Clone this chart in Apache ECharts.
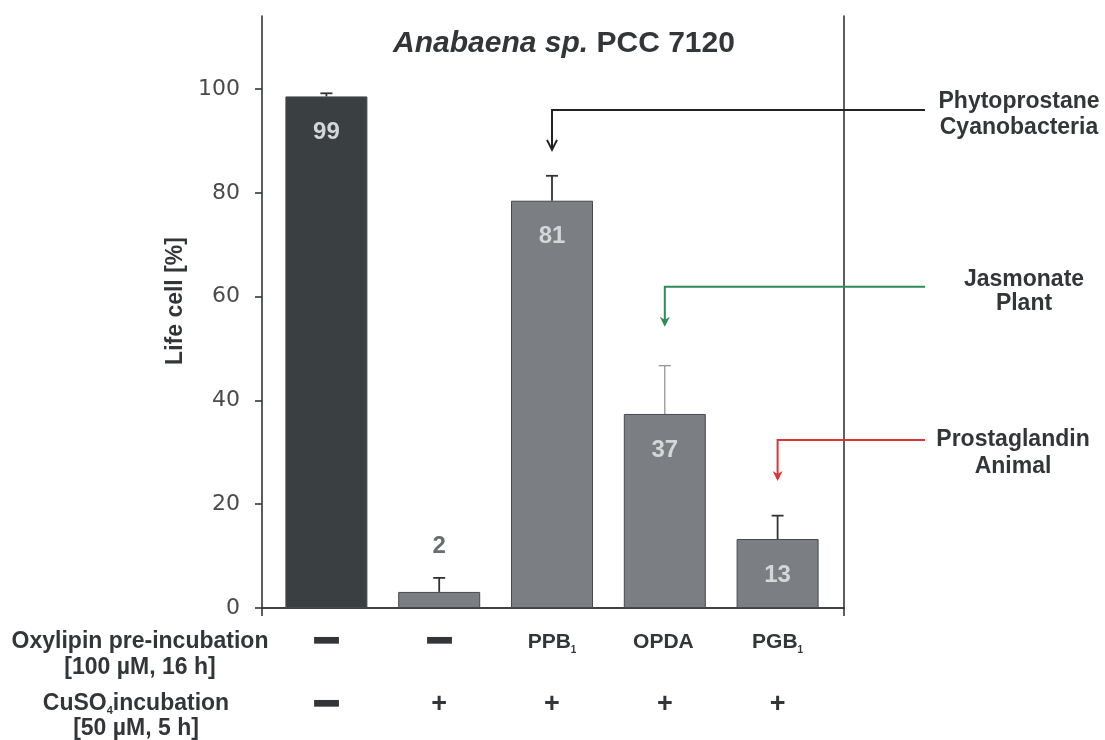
<!DOCTYPE html>
<html><head><meta charset="utf-8">
<script src="https://cdn.jsdelivr.net/npm/echarts@6/dist/echarts.min.js"></script>
<style>html,body{margin:0;padding:0;background:#fff}#c{width:1105px;height:740px}</style>
</head><body><div id="c"></div>
<script>
// ---- data ----
const categories = ['ctrl', 'CuSO4', 'PPB1', 'OPDA', 'PGB1'];
const lifeCell = [98.6, 3.1, 78.5, 37.4, 13.3];
const errorTop = [99.2, 5.8, 83.3, 46.7, 17.8];
const valueLabels = ['99', '2', '81', '37', '13'];
const oxylipinRow = ['—', '—', 'PPB|1', 'OPDA', 'PGB|1'];
const cuso4Row = ['—', '+', '+', '+', '+'];
const yTicks = [0, 20, 40, 60, 80, 100];
const yMax = 114.1;
const arrowTarget = [2, 3, 4];
const arrowLineY = [96.0, 61.9, 32.4];
const arrowTipY = [88.3, 54.2, 24.5];
const arrowLabels = [['Phytoprostane', 'Cyanobacteria'], ['Jasmonate', 'Plant'], ['Prostaglandin', 'Animal']];

// ---- styles ----
const FONT = 'Liberation Sans, Arial, sans-serif';
const DARK = '#333638';
const barColors = ['#3a3f42', '#7b7e82', '#7b7e82', '#7b7e82', '#7b7e82'];
const errColors = ['#333', '#333', '#333', '#8a8d90', '#333'];
const arrowColors = ['#222222', '#2e8b57', '#d9363a'];

const chart = echarts.init(document.getElementById('c'), null, {renderer: 'canvas'});

const barData = lifeCell.map((v, i) => ({
  value: v,
  itemStyle: {color: barColors[i], borderColor: '#45494c', borderWidth: 1},
  label: i === 1
    ? {show: true, position: 'top', distance: 34, color: '#6a6d70', formatter: valueLabels[i]}
    : {show: true, position: 'insideTop', distance: 24, color: '#d4d6d8', formatter: valueLabels[i]}
}));

const errData = errorTop.map((t, i) => [i, lifeCell[i], t]);
const arrowData = arrowTarget.map((c, k) => [c, arrowLineY[k], arrowTipY[k], k]);

const rowRich = {
  b: {fontFamily: FONT, fontWeight: 'bold', fontSize: 21, color: DARK, lineHeight: 30},
  sub: {fontFamily: FONT, fontWeight: 'bold', fontSize: 10, color: DARK, lineHeight: 30, padding: [16, 0, 0, 0]},
  dash: {fontFamily: 'DejaVu Sans', fontSize: 40, color: DARK, lineHeight: 30, padding: [4, 0, 0, 0]},
  plus: {fontFamily: FONT, fontWeight: 'bold', fontSize: 27, color: DARK, lineHeight: 30}
};
function rowFmt(t) {
  if (t === '—') return '{dash|━}';
  if (t === '+') return '{plus|+}';
  if (t.indexOf('|') >= 0) { const p = t.split('|'); return '{b|' + p[0] + '}{sub|' + p[1] + '}'; }
  return '{b|' + t + '}{sub| }';
}

const option = {
  animation: false,
  backgroundColor: '#fff',
  textStyle: {fontFamily: FONT},
  grid: [
    {left: 262, top: 16, width: 582, bottom: 132, containLabel: false},
    {left: 270, top: 16, width: 564, bottom: 132, containLabel: false}
  ],
  xAxis: [
    {gridIndex: 0, type: 'category', data: [''], position: 'bottom',
     axisLine: {show: true, lineStyle: {color: DARK, width: 1.6}},
     axisTick: {show: true, length: 8, lineStyle: {color: DARK, width: 1.6}},
     axisLabel: {show: false}, splitLine: {show: false}},
    {gridIndex: 0, type: 'category', data: [''], position: 'top',
     axisLine: {show: true, lineStyle: {color: DARK, width: 1.6}},
     axisTick: {show: false}, axisLabel: {show: false}},
    {gridIndex: 1, type: 'category', data: categories, position: 'bottom',
     axisLine: {show: false}, axisTick: {show: false},
     axisLabel: {show: true, margin: 19, interval: 0, rich: rowRich,
       formatter: (v, i) => rowFmt(oxylipinRow[i])}},
    {gridIndex: 1, type: 'category', data: categories, position: 'bottom', offset: 63,
     axisLine: {show: false}, axisTick: {show: false},
     axisLabel: {show: true, margin: 19, interval: 0, rich: rowRich,
       formatter: (v, i) => rowFmt(cuso4Row[i])}}
  ],
  yAxis: [
    {gridIndex: 0, type: 'value', min: 0, max: yMax, position: 'left',
     name: 'Life cell [%]', nameLocation: 'middle', nameGap: 63,
     nameTextStyle: {fontFamily: FONT, fontWeight: 'bold', fontSize: 23, color: DARK, padding: [0, 0, 0, 22]},
     axisLine: {show: true, lineStyle: {color: DARK, width: 1.6}},
     axisTick: {show: true, length: 7, customValues: yTicks, lineStyle: {color: DARK, width: 1.6}},
     axisLabel: {show: true, margin: 22, fontSize: 22, color: '#4a4a4a', fontFamily: 'DejaVu Sans, sans-serif',
       customValues: yTicks},
     splitLine: {show: false}},
    {gridIndex: 0, type: 'value', min: 0, max: yMax, position: 'right',
     axisLine: {show: true, lineStyle: {color: DARK, width: 1.6}},
     axisTick: {show: false}, axisLabel: {show: false}, splitLine: {show: false}},
    {gridIndex: 1, type: 'value', min: 0, max: yMax, show: false, splitLine: {show: false}}
  ],
  series: [
    {type: 'bar', xAxisIndex: 2, yAxisIndex: 2, data: barData, barWidth: 82,
     label: {fontFamily: FONT, fontWeight: 'bold', fontSize: 24}, z: 2},
    {type: 'custom', xAxisIndex: 2, yAxisIndex: 2, data: errData, z: 3,
     renderItem: (params, api) => {
       const i = api.value(0);
       const p0 = api.coord([i, api.value(1)]);
       const p1 = api.coord([i, api.value(2)]);
       const col = errColors[i];
       const w = i === 3 ? 1.2 : 1.8;
       return {type: 'group', children: [
         {type: 'line', shape: {x1: p0[0], y1: p0[1], x2: p1[0], y2: p1[1]}, style: {stroke: col, lineWidth: w}},
         {type: 'line', shape: {x1: p1[0] - 6, y1: p1[1], x2: p1[0] + 6, y2: p1[1]}, style: {stroke: col, lineWidth: w}}
       ]};
     }},
    {type: 'custom', xAxisIndex: 2, yAxisIndex: 2, data: arrowData, z: 4, clip: false,
     renderItem: (params, api) => {
       const c = api.value(0);
       const k = api.value(3);
       const pl = api.coord([c, api.value(1)]);
       const pt = api.coord([c, api.value(2)]);
       const endX = params.coordSys.x + params.coordSys.width + 91;
       const col = arrowColors[k];
       const children = [
         {type: 'polyline', shape: {points: [[endX, pl[1]], [pt[0], pl[1]], [pt[0], pt[1] - 2]]},
          style: {stroke: col, lineWidth: 2, fill: null}}
       ];
       if (k === 0) {
         children.push({type: 'polyline', shape: {points: [[pt[0] - 5, pt[1] - 10], [pt[0], pt[1]], [pt[0] + 5, pt[1] - 10]]},
           style: {stroke: col, lineWidth: 2, fill: null}});
       } else {
         children.push({type: 'polygon', shape: {points: [[pt[0] - 5, pt[1] - 10], [pt[0], pt[1]], [pt[0] + 5, pt[1] - 10], [pt[0], pt[1] - 7]]},
           style: {fill: col}});
       }
       return {type: 'group', children: children};
     }}
  ],
  graphic: [
    {type: 'text', x: 564, y: 44, style: {
      text: '{i|Anabaena sp.}{b| PCC 7120}', align: 'center', verticalAlign: 'middle',
      rich: {i: {fontFamily: FONT, fontStyle: 'italic', fontWeight: 'bold', fontSize: 30, fill: DARK},
             b: {fontFamily: FONT, fontWeight: 'bold', fontSize: 30, fill: DARK}}}},
    {type: 'text', x: 1019, y: 115, style: {text: arrowLabels[0].join('\n'), align: 'center', verticalAlign: 'middle',
      font: 'bold 23px ' + FONT, fill: DARK, lineHeight: 26}},
    {type: 'text', x: 1024, y: 292, style: {text: arrowLabels[1].join('\n'), align: 'center', verticalAlign: 'middle',
      font: 'bold 23px ' + FONT, fill: DARK, lineHeight: 24}},
    {type: 'text', x: 1013, y: 453, style: {text: arrowLabels[2].join('\n'), align: 'center', verticalAlign: 'middle',
      font: 'bold 23px ' + FONT, fill: DARK, lineHeight: 27}},
    {type: 'text', x: 140, y: 655, style: {text: 'Oxylipin pre-incubation\n[100 µM, 16 h]', align: 'center', verticalAlign: 'middle',
      font: 'bold 23px ' + FONT, fill: DARK, lineHeight: 26}},
    {type: 'text', x: 136, y: 716, style: {
      text: '{b|CuSO}{sub|4}{b|incubation}\n{b|[50 µM, 5 h]}', align: 'center', verticalAlign: 'middle',
      rich: {b: {fontFamily: FONT, fontWeight: 'bold', fontSize: 23, fill: DARK, lineHeight: 25},
             sub: {fontFamily: FONT, fontWeight: 'bold', fontSize: 11, fill: DARK, lineHeight: 25, padding: [14, 0, 0, 0]}}}}
  ]
};
chart.setOption(option);
</script></body></html>
